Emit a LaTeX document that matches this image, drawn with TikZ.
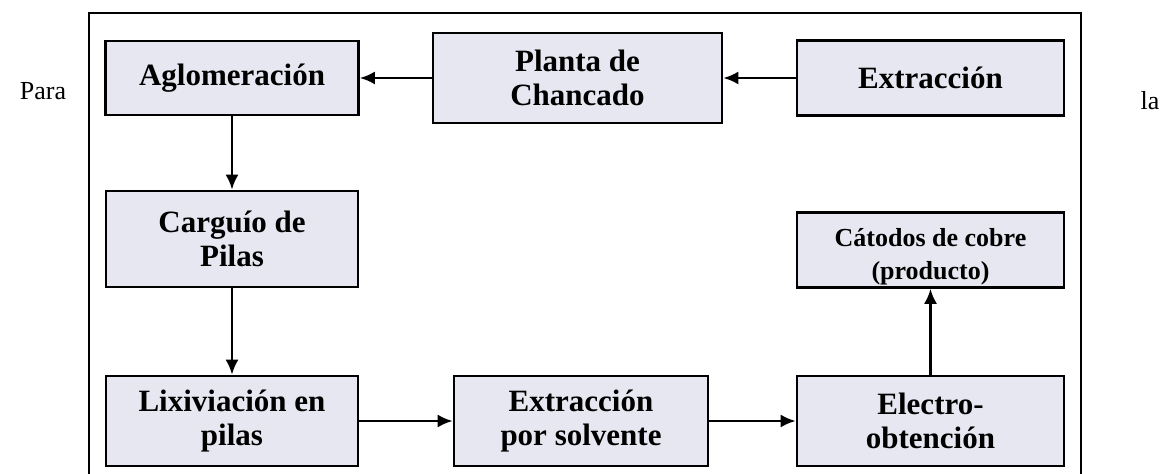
\documentclass[tikz,border=0pt]{standalone}
\usepackage{fontspec}
\setmainfont{Liberation Serif}
\usepackage{tikz}
\usetikzlibrary{arrows.meta}
\definecolor{boxfill}{RGB}{231,231,241}

\tikzset{
  proc/.style={draw, line width=1.3pt, fill=boxfill, inner sep=0pt, align=center,
    font=\bfseries\fontsize{15.5}{17}\selectfont},
  flow/.style={-{Latex[length=7.5pt,width=6.5pt]}, line width=1.3pt},
  side/.style={font=\fontsize{13}{15}\selectfont, anchor=base},
}

\begin{document}
\begin{tikzpicture}[x=0.5pt, y=-0.5pt]
        \useasboundingbox (0,0) rectangle (1162,474);
        % frame
        \draw[line width=1pt] (89,480) -- (89,13) -- (1081,13) -- (1081,480);
        % nodes
        \node[side] (para) at (43,100) {Para};
        \node[side] (la)   at (1150,110) {la};
        \node[proc, minimum width=126.5pt, minimum height=37pt]   (aglom)   at (232,78)    {Aglomeración};
        \node[proc, minimum width=144.5pt, minimum height=45pt]   (planta)  at (577.5,78)  {Planta de\\Chancado};
        \node[proc, minimum width=133.5pt, minimum height=37.5pt] (extr)    at (930.5,78)  {Extracción};
        \node[proc, minimum width=126pt, minimum height=48pt]     (carg)    at (232,239)   {Carguío de\\Pilas};
        \node[proc, minimum width=133.5pt, minimum height=37.5pt, text height=30pt, text depth=0pt,
              font=\bfseries\fontsize{13}{16.5}\selectfont]       (catodos) at (930.5,250) {Cátodos de cobre\\(producto)};
        \node[proc, minimum width=126pt, minimum height=45pt]     (lix)     at (232,421)   {Lixiviación en\\pilas};
        \node[proc, minimum width=127pt, minimum height=45pt]     (solv)    at (581,421)   {Extracción\\por solvente};
        \node[proc, minimum width=133.5pt, minimum height=45pt]   (electro) at (930.5,421) {Electro-\\obtención};
        % arrows
        \draw[flow] (extr)    -- (planta);
        \draw[flow] (planta)  -- (aglom);
        \draw[flow] (aglom)   -- (carg);
        \draw[flow] (carg)    -- (lix);
        \draw[flow] (lix)     -- (solv);
        \draw[flow] (solv)    -- (electro);
        \draw[flow] (electro) -- (catodos);
\end{tikzpicture}
\end{document}
